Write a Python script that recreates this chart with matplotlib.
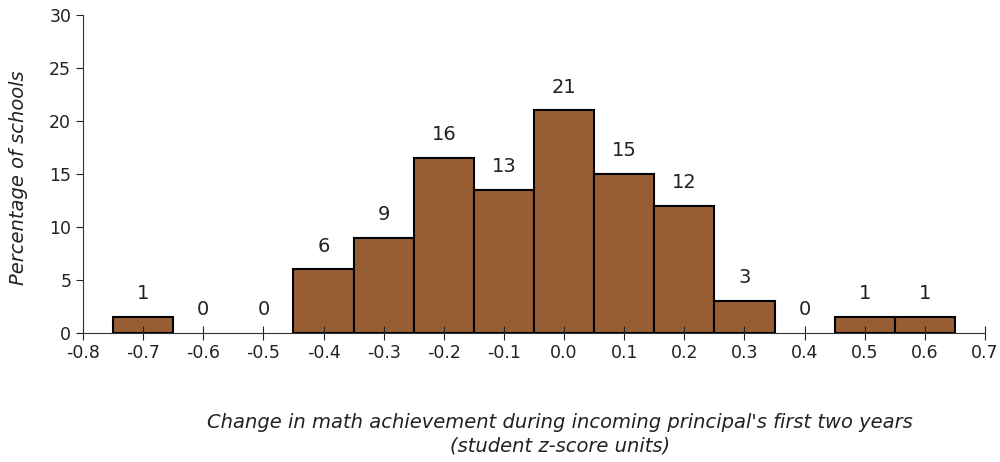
import matplotlib.pyplot as plt

# bin centres (z-score units) and bar heights (% of schools)
centres = [-0.7, -0.6, -0.5, -0.4, -0.3, -0.2, -0.1, 0.0, 0.1, 0.2, 0.3, 0.4, 0.5, 0.6]
heights = [1.5, 0, 0, 6, 9, 16.5, 13.5, 21, 15, 12, 3, 0, 1.5, 1.5]
labels = ['1', '0', '0', '6', '9', '16', '13', '21', '15', '12', '3', '0', '1', '1']
xticks = [-0.8, -0.7, -0.6, -0.5, -0.4, -0.3, -0.2, -0.1, 0.0, 0.1, 0.2, 0.3, 0.4, 0.5, 0.6, 0.7]

plt.rcParams['font.family'] = ['DejaVu Sans']
fig = plt.figure(figsize=(10, 4.62), dpi=100)
ax = fig.add_axes([0.083, 0.279, 0.902, 0.6885])

# empty bins get no outline
edges = ['black' if h > 0 else 'none' for h in heights]
ax.bar(centres, heights, width=0.1, color='#985e33', edgecolor=edges, linewidth=1.5)

for c, h, lab in zip(centres, heights, labels):
    ax.annotate(lab, (c, h), xytext=(0, 10), textcoords='offset points',
                ha='center', va='bottom', fontsize=14, color='#222222')

ax.set_xlim(-0.8, 0.7)
ax.set_ylim(0, 30)
ax.set_xticks(xticks)
ax.set_xticklabels(['%.1f' % t if abs(t) > 1e-9 else '0.0' for t in xticks])
ax.set_yticks(range(0, 31, 5))
ax.tick_params(axis='x', direction='inout', length=10, labelsize=12.5, pad=3, colors='#222222')
ax.tick_params(axis='y', direction='out', length=5, labelsize=12.5, colors='#222222')
for s in ['top', 'right']:
    ax.spines[s].set_visible(False)
for s in ['left', 'bottom']:
    ax.spines[s].set_color('#333333')

fig.text(0.019, 0.615, 'Percentage of schools', rotation=90, style='italic',
         fontsize=14, ha='center', va='center', color='#222222')
fig.text(0.56, 0.06, "Change in math achievement during incoming principal's first two years\n(student z-score units)",
         style='italic', fontsize=14, ha='center', va='center', color='#222222', linespacing=1.25)

fig.savefig('out.png', dpi=100)
